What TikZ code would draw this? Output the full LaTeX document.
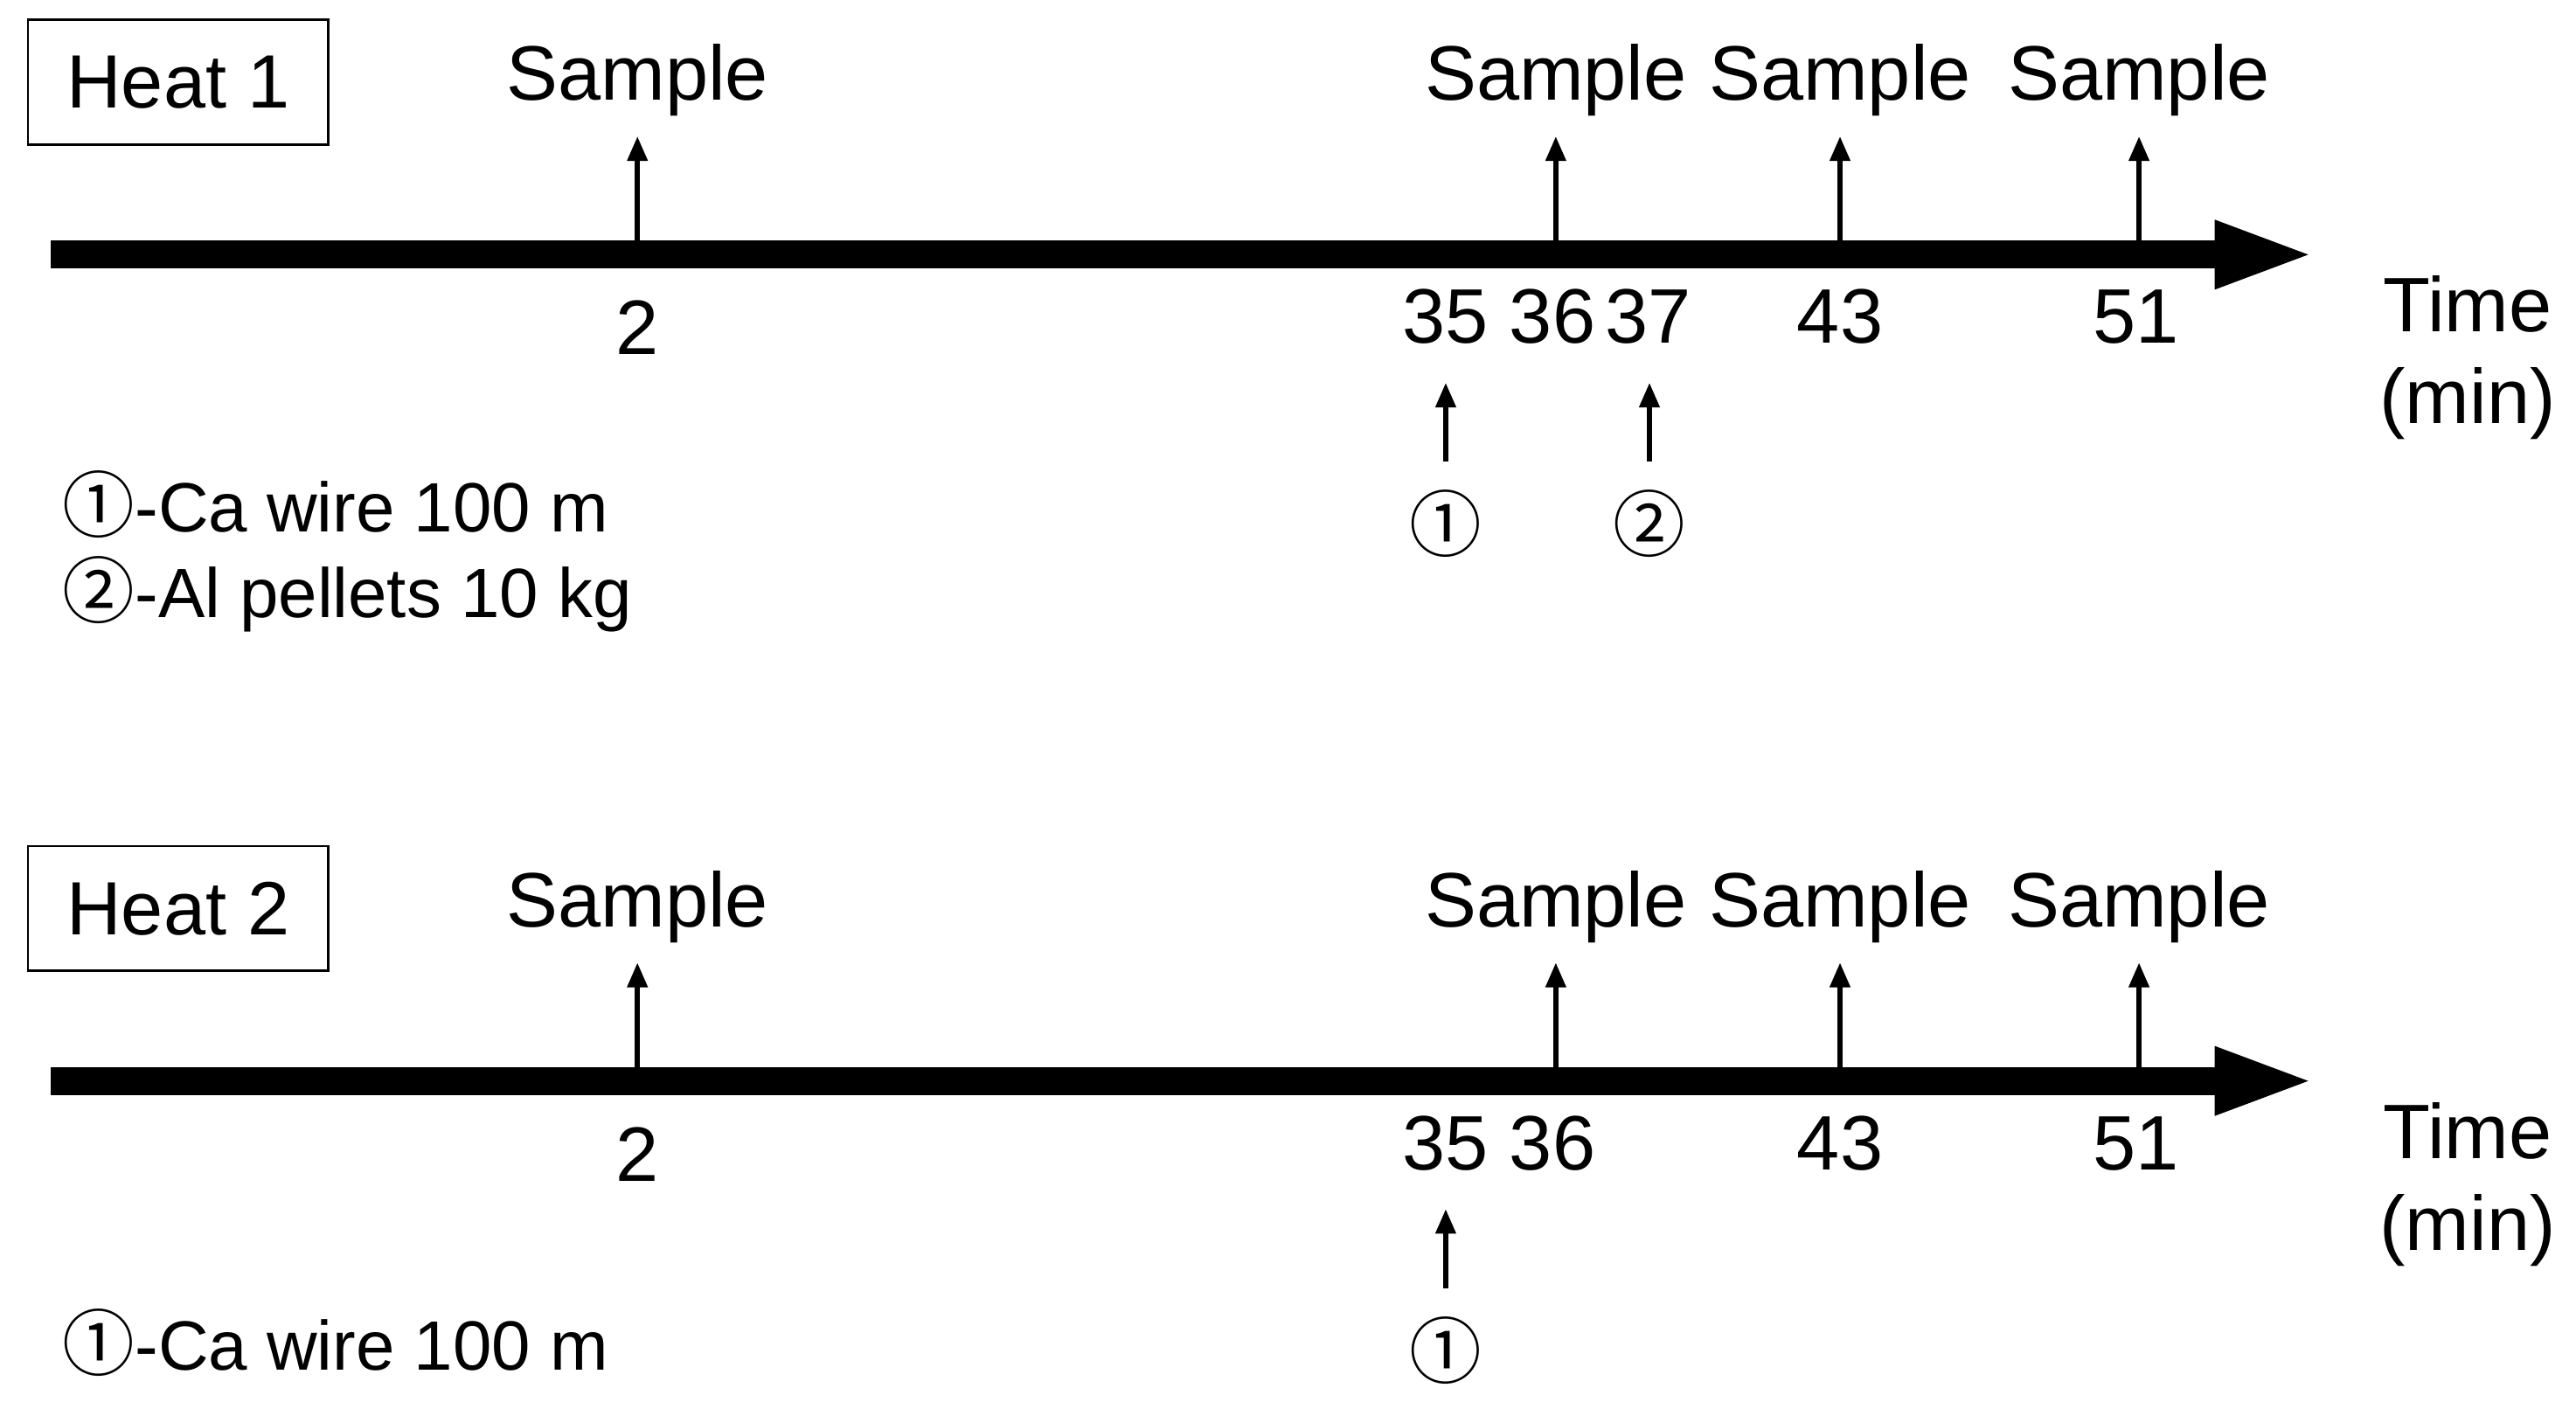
\documentclass[tikz,border=0pt]{standalone}
\usepackage{fontspec}
\setmainfont{Liberation Sans}
\newfontfamily\circfont{Noto Sans CJK SC}
\usetikzlibrary{arrows.meta}
\tikzset{
  lbl/.style={font=\fontsize{47}{52}\selectfont, inner sep=0pt, anchor=base},
  leg/.style={font=\fontsize{42.5}{48}\selectfont, inner sep=0pt, anchor=base west},
  circ/.style={font=\circfont\fontsize{44}{50}\selectfont, inner sep=0pt},
  heatbox/.style={draw, line width=1.5pt, minimum width=183pt, minimum height=76pt, inner sep=0pt, font=\fontsize{46}{50}\selectfont},
  timeline/.style={line width=17pt, line cap=butt, -{Triangle[length=62pt,width=37pt]}},
  samparrow/.style={line width=3pt, -{Triangle[length=15pt,width=12pt]}}
}
\begin{document}
\begin{tikzpicture}[x=1pt,y=-1pt]
\useasboundingbox (0,0) rectangle (1568,853);
\foreach \hh/\off in {1/0,2/503}{
  \node[heatbox] (heat\hh) at (108.5,50+\off) {Heat \hh};
  \coordinate (tls\hh) at (31,155+\off);
  \coordinate (tle\hh) at (1410,155+\off);
  \draw[timeline] (tls\hh) -- (tle\hh);
  \node[lbl] (time\hh) at (1502,202+\off) {Time};
  \node[lbl] (min\hh) at (1502,258+\off) {(min)};
  \foreach \x/\k in {388/a,947/b,1120/c,1302/d}{
    \node[lbl] (samp\hh\k) at (\x,61+\off) {Sample};
    \coordinate (sb\hh\k) at (\x,150+\off);
    \coordinate (st\hh\k) at (\x,83+\off);
    \draw[samparrow] (sb\hh\k) -- (st\hh\k);
  }
  \node[lbl] (n\hh a) at (388,216+\off) {2};
  \node[lbl] (n\hh b) at (880,209+\off) {35};
  \node[lbl] (n\hh c) at (945,209+\off) {36};
  \node[lbl] (n\hh e) at (1120,209+\off) {43};
  \node[lbl] (n\hh f) at (1300,209+\off) {51};
  \node[circ] (c\hh one) at (880,319+\off) {①};
  \coordinate (ab\hh one) at (880,281+\off);
  \coordinate (at\hh one) at (880,233+\off);
  \draw[samparrow] (ab\hh one) -- (at\hh one);
}
\node[lbl] (n1d) at (1003,209) {37};
\node[circ] (c1two) at (1004,319) {②};
\coordinate (ab1two) at (1004,281);
\coordinate (at1two) at (1004,233);
\draw[samparrow] (ab1two) -- (at1two);
\node[leg] (leg1a) at (38,324) {{\circfont\fontsize{44}{50}\selectfont ①}-Ca wire 100 m};
\node[leg] (leg1b) at (38,376) {{\circfont\fontsize{44}{50}\selectfont ②}-Al pellets 10 kg};
\node[leg] (leg2a) at (38,834) {{\circfont\fontsize{44}{50}\selectfont ①}-Ca wire 100 m};
\end{tikzpicture}
\end{document}
